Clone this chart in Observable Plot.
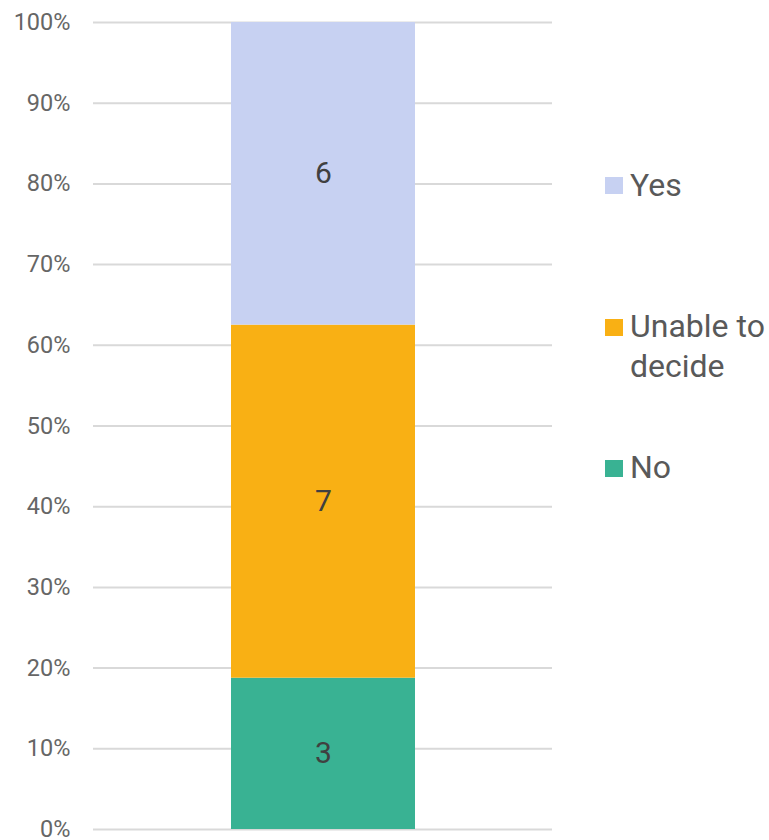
<!DOCTYPE html>
<html>
<head>
<meta charset="utf-8">
<script src="https://cdn.jsdelivr.net/npm/d3@7"></script>
<script src="https://cdn.jsdelivr.net/npm/@observablehq/plot@0.6"></script>
<style>
  body { margin: 0; background: #fff; }
  #wrap { position: relative; width: 769px; height: 840px; font-family: Roboto, sans-serif; }
  #chart svg { display: block; }
  .lg { position: absolute; left: 605px; font-size: 32px; line-height: 40px; color: #595959; }
  .lg .sw { position: absolute; left: 0; width: 18px; height: 17px; }
  .lg .tx { position: absolute; left: 25px; white-space: nowrap; }
</style>
</head>
<body>
<div id="wrap">
  <div id="chart"></div>
  <div id="legend"></div>
</div>
<script>
const categories = ["No", "Unable to decide", "Yes"];
const counts = [3, 7, 6];
const colors = ["#39B293", "#F9B014", "#C7D1F2"];
const legendOrder = ["Yes", "Unable to decide", "No"];
const legendLabels = [["Yes"], ["Unable to", "decide"], ["No"]];
const yTicks = [0, 0.1, 0.2, 0.3, 0.4, 0.5, 0.6, 0.7, 0.8, 0.9, 1];

const data = categories.map((c, i) => ({group: "", answer: c, count: counts[i]}));

const chart = Plot.plot({
  width: 769,
  height: 840,
  marginLeft: 93,
  marginRight: 217,
  marginTop: 22,
  marginBottom: 11,
  style: {fontFamily: "Roboto, sans-serif", background: "#fff"},
  x: {domain: [""], padding: 0.4277, axis: null},
  y: {domain: [0, 1], ticks: yTicks, tickFormat: d => `${Math.round(d * 100)}%`, tickSize: 0, tickPadding: 23, label: null},
  color: {domain: categories, range: colors},
  marks: [
    Plot.ruleY(yTicks, {stroke: "#d9d9d9", strokeWidth: 2}),
    Plot.barY(data, {x: "group", y: "count", fill: "answer", order: categories, offset: "normalize"}),
    Plot.text(data, Plot.stackY({x: "group", y: "count", z: "answer", order: categories, offset: "normalize", text: d => String(d.count), fontSize: 30, fill: "#404040"})),
    Plot.axisY({ticks: yTicks, tickFormat: d => `${Math.round(d * 100)}%`, tickSize: 0, tickPadding: 23, fontSize: 23.5, fill: "#666", label: null})
  ]
});
document.getElementById("chart").appendChild(chart);

// legend
const lgTops = [165.1, 306.1, 447.1];
const swTops = [177, 319.5, 460.5];
const legend = document.getElementById("legend");
legendOrder.forEach((name, i) => {
  const item = document.createElement("div");
  item.className = "lg";
  item.style.top = lgTops[i] + "px";
  const sw = document.createElement("div");
  sw.className = "sw";
  sw.style.background = colors[categories.indexOf(name)];
  sw.style.top = (swTops[i] - lgTops[i]) + "px";
  const tx = document.createElement("div");
  tx.className = "tx";
  tx.innerHTML = legendLabels[i].join("<br>");
  item.appendChild(sw);
  item.appendChild(tx);
  legend.appendChild(item);
});
</script>
</body>
</html>
